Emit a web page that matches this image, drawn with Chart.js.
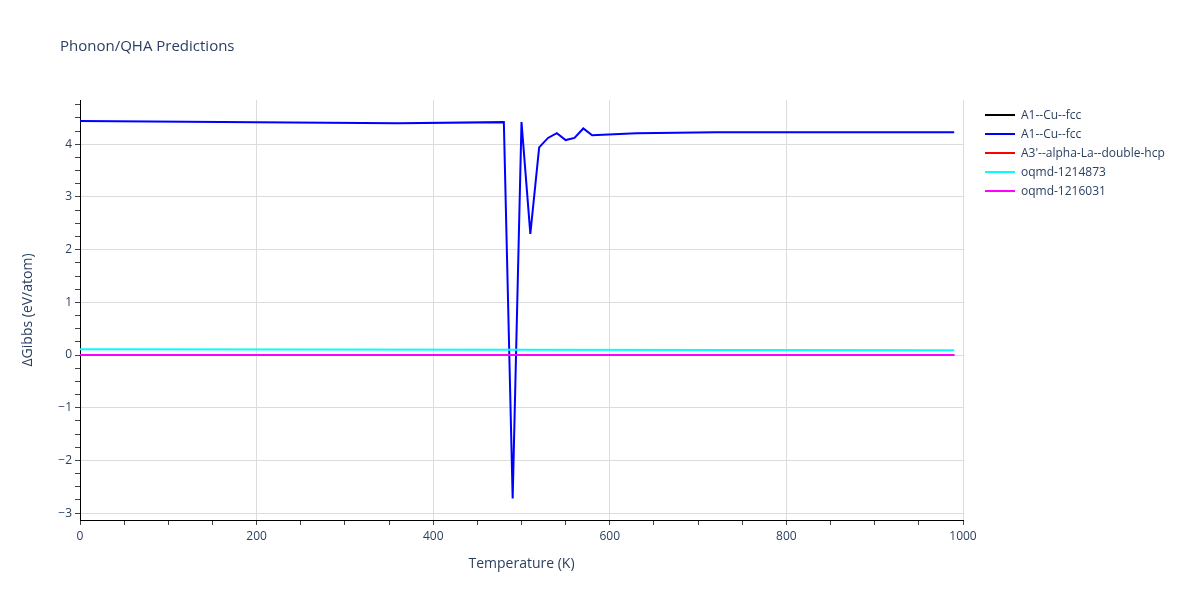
<!DOCTYPE html>
<html>
<head>
<meta charset="utf-8">
<script src="https://cdn.jsdelivr.net/npm/chart.js@4"></script>
<style>
  body { margin: 0; background: #fff; font-family: "Open Sans", sans-serif; }
  #wrap { position: relative; width: 1200px; height: 600px; }
  #title { position: absolute; left: 60px; top: 35px; font-size: 15px; color: #2a3f5f; }
  #legend { position: absolute; left: 985px; top: 105px; font-size: 12px; color: #2a3f5f; }
  .row { height: 19px; display: flex; align-items: center; }
  .swatch { width: 30px; height: 2px; margin-right: 6px; }
</style>
</head>
<body>
<div id="wrap">
  <canvas id="chart" width="1200" height="600"></canvas>
  <div id="title">Phonon/QHA Predictions</div>
  <div id="legend"></div>
</div>
<script>
// Series names and colours
const NAMES = ["A1--Cu--fcc", "A1--Cu--fcc", "A3'--alpha-La--double-hcp", "oqmd-1214873", "oqmd-1216031"];
const COLORS = ["#000000", "#0000ff", "#ff0000", "#00ffff", "#ff00ff"];

// Temperatures (K)
const T_FLAT = [0, 990];
const T_BLUE = [0, 360, 480, 490, 500, 510, 520, 530, 540, 550, 560, 570, 580, 630, 720, 990];

// ΔGibbs values (eV/atom)
const G_BLACK = [0, 0];
const G_BLUE = [4.44, 4.40, 4.42, -2.72, 4.42, 2.30, 3.94, 4.12, 4.21, 4.08, 4.12, 4.30, 4.17, 4.21, 4.23, 4.23];
const G_RED = [0, 0];
const G_CYAN = [0.11, 0.09];
const G_MAGENTA = [0, 0];

// tick positions (major labelled, minor just marks)
const X_TICKS = [0, 50, 100, 150, 200, 250, 300, 350, 400, 450, 500, 550, 600, 650, 700, 750, 800, 850, 900, 950, 1000];
const X_LABELS = [0, 200, 400, 600, 800, 1000];
const Y_TICKS = [-3, -2.75, -2.5, -2.25, -2, -1.75, -1.5, -1.25, -1, -0.75, -0.5, -0.25, 0, 0.25, 0.5, 0.75,
                 1, 1.25, 1.5, 1.75, 2, 2.25, 2.5, 2.75, 3, 3.25, 3.5, 3.75, 4, 4.25, 4.5, 4.75];
const Y_LABELS = [-3, -2, -1, 0, 1, 2, 3, 4];

const SERIES = [
    [T_FLAT, G_BLACK],
    [T_BLUE, G_BLUE],
    [T_FLAT, G_RED],
    [T_FLAT, G_CYAN],
    [T_FLAT, G_MAGENTA]
];

const pts = (xs, ys) => xs.map((x, i) => ({ x: x, y: ys[i] }));

const datasets = SERIES.map((s, i) => {
    return {
        label: NAMES[i],
        data: pts(s[0], s[1]),
        borderColor: COLORS[i],
        backgroundColor: COLORS[i],
        borderWidth: 2,
        pointRadius: 0,
        tension: 0,
        order: SERIES.length - i
    };
});

// legend as html
const LEG = document.getElementById("legend");
NAMES.forEach((n, i) => {
    LEG.innerHTML += '<div class="row"><div class="swatch" style="background:' + COLORS[i] + '"></div>' + n + '</div>';
});

const GRID = "rgb(220,220,220)";
const TXT = "#2a3f5f";
const isLabel = (v, list) => list.some(l => Math.abs(l - v) < 1e-6);

new Chart(document.getElementById("chart"), {
    type: 'line',
    data: { datasets: datasets },
    options: {
        responsive: false,
        animation: false,
        layout: { padding: { top: 100, right: 237, left: 0, bottom: 0 } },
        plugins: { legend: { display: false }, tooltip: { enabled: false } },
        scales: {
            x: {
                type: 'linear',
                min: 0,
                max: 1000,
                afterFit: (s) => { s.height = 80; },
                afterBuildTicks: (s) => { s.ticks = X_TICKS.map(v => ({ value: v })); },
                ticks: {
                    autoSkip: false,
                    maxRotation: 0,
                    padding: 4,
                    color: TXT,
                    font: { family: "Open Sans", size: 12 },
                    callback: (v) => isLabel(v, X_LABELS) ? String(v) : ''
                },
                grid: {
                    color: (c) => isLabel(c.tick.value, X_LABELS) ? GRID : 'rgba(0,0,0,0)',
                    tickColor: '#444',
                    tickLength: 5
                },
                border: { color: '#000', width: 1 },
                title: {
                    display: true,
                    text: 'Temperature (K)',
                    color: TXT,
                    font: { family: "Open Sans", size: 14 },
                    padding: { top: 0, bottom: 28 }
                }
            },
            y: {
                type: 'linear',
                min: -3.13,
                max: 4.84,
                afterFit: (s) => { s.width = 80; },
                afterBuildTicks: (s) => { s.ticks = Y_TICKS.map(v => ({ value: v })); },
                ticks: {
                    autoSkip: false,
                    color: TXT,
                    font: { family: "Open Sans", size: 12 },
                    callback: (v) => isLabel(v, Y_LABELS) ? (v < 0 ? '\u2212' + Math.abs(Math.round(v)) : String(Math.round(v))) : ''
                },
                grid: {
                    color: (c) => isLabel(c.tick.value, Y_LABELS) ? GRID : 'rgba(0,0,0,0)',
                    tickColor: '#444',
                    tickLength: 5
                },
                border: { color: '#000', width: 1 },
                title: {
                    display: true,
                    text: '\u0394Gibbs (eV/atom)',
                    color: TXT,
                    font: { family: "Open Sans", size: 14 },
                    padding: { top: 20, bottom: 0 }
                }
            }
        }
    }
});
</script>
</body>
</html>
